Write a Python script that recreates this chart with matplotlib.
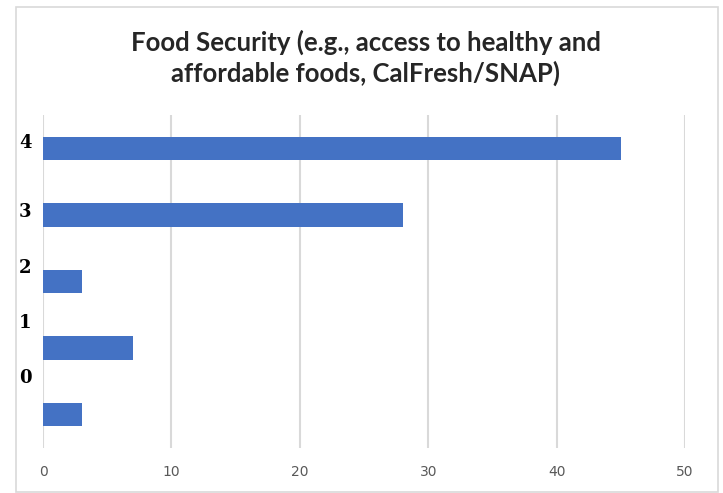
import matplotlib.pyplot as plt
from matplotlib.patches import Rectangle
import matplotlib.transforms as mtransforms

# bar values, bottom bar first
positions = [0, 1, 2, 3, 4]
counts = [3, 7, 3, 28, 45]
# overlaid labels on the left and where they sit (data y)
labels = ["0", "1", "2", "3", "4"]
label_y = [0.55, 1.37, 2.21, 3.05, 4.08]
xticks = [0, 10, 20, 30, 40, 50]

title = "Food Security (e.g., access to healthy and\naffordable foods, CalFresh/SNAP)"

fig = plt.figure(figsize=(7.23, 4.93), dpi=100)
ax = fig.add_axes([0.0595, 0.0913, 0.8879, 0.6754])

ax.barh(positions, counts, height=0.35, color="#4472C4", zorder=3)

ax.set_xlim(0, 50)
ax.set_ylim(-0.5, 4.5)
ax.set_xticks(xticks)
ax.set_yticks([])
ax.grid(axis="x", color="#d9d9d9", linewidth=1.5, zorder=0)
for s in ax.spines.values():
    s.set_visible(False)
ax.tick_params(axis="x", length=0, pad=12, labelsize=10, labelcolor="#595959")

trans = mtransforms.blended_transform_factory(fig.transFigure, ax.transData)
for lab, y in zip(labels, label_y):
    fig.text(25 / 723, y, lab, transform=trans, ha="center", va="center",
             fontsize=13, fontweight="bold", family="DejaVu Serif")

fig.text(0.506, 0.883, title, ha="center", va="center", fontsize=18.5,
         fontweight="bold", family="Lato", color="#262626", linespacing=1.3)

# light frame around the chart
fig.patches.append(Rectangle((16 / 723, 1 / 493), 702 / 723, 485 / 493,
                             transform=fig.transFigure, fill=False,
                             edgecolor="#d9d9d9", linewidth=1.2))

fig.savefig("out.png", dpi=100)
